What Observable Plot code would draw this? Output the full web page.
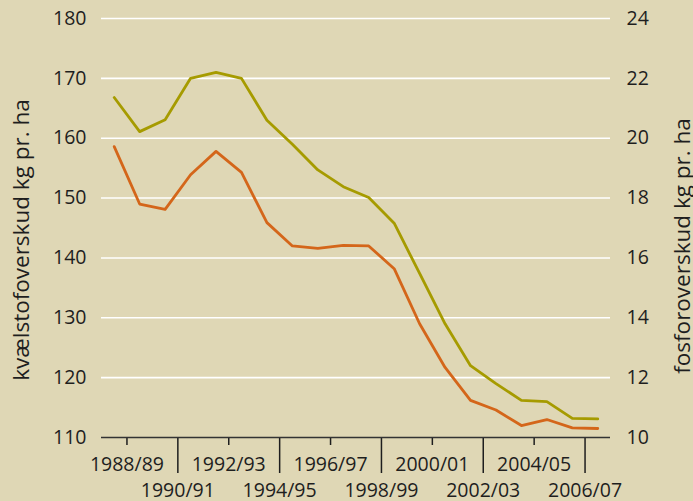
<!DOCTYPE html>
<html>
<head>
<meta charset="utf-8">
<script src="https://cdn.jsdelivr.net/npm/d3@7"></script>
<script src="https://cdn.jsdelivr.net/npm/@observablehq/plot@0.6"></script>
<style>
  html, body { margin: 0; padding: 0; background: #dfd7b5; }
  #chart svg { display: block; }
</style>
</head>
<body>
<div id="chart"></div>
<script>
// Data (20 seasons)
const kvaelstof = [166.8, 161.1, 163.1, 170.0, 171.0, 170.0, 163.0, 159.0, 154.7, 151.9,
                   150.1, 145.8, 137.4, 129.0, 122.0, 119.0, 116.2, 116.0, 113.2, 113.1];
const fosfor = [19.72, 17.80, 17.62, 18.78, 19.56, 18.86, 17.18, 16.40, 16.32, 16.42,
                16.40, 15.64, 13.80, 12.34, 11.24, 10.92, 10.40, 10.60, 10.32, 10.30];
const labelsTop = ["1988/89", "1992/93", "1996/97", "2000/01", "2004/05"];
const labelsBottom = ["1990/91", "1994/95", "1998/99", "2002/03", "2006/07"];
const leftTicks = [110, 120, 130, 140, 150, 160, 170, 180];
const rightTicks = [10, 12, 14, 16, 18, 20, 22, 24];
const leftTitle = "kvælstofoverskud kg pr. ha";
const rightTitle = "fosforoverskud kg pr. ha";

// helpers
const startYear = s => +s.slice(0, 4);
const pos = s => startYear(s) - 1988 + 0.5;
const labelAt = new Map([...labelsTop, ...labelsBottom].map(s => [pos(s), s]));
const pToN = p => 110 + (p - 10) * 5;   // right axis mapped onto left axis
const nToP = n => (n - 110) / 5 + 10;

const nData = kvaelstof.map((v, i) => ({i, v}));
const pData = fosfor.map((v, i) => ({i, v}));

const ink = "#1e1e1e";

const chart = Plot.plot({
  width: 693,
  height: 501,
  marginLeft: 101,
  marginRight: 83,
  marginTop: 18,
  marginBottom: 64,
  style: {background: "#dfd7b5", fontFamily: "'Open Sans', sans-serif", fontSize: "19.5px", color: ink},
  x: {domain: [-0.5, 19.5]},
  y: {domain: [110, 180]},
  marks: [
    Plot.ruleY(leftTicks.filter(d => d > 110), {stroke: "white", strokeWidth: 1.6}),
    Plot.axisY({ticks: leftTicks, tickSize: 0, tickPadding: 15, label: null}),
    Plot.axisY({anchor: "right", ticks: rightTicks.map(pToN), tickSize: 0, tickPadding: 16,
                tickFormat: d => String(Math.round(nToP(d))), label: null}),
    Plot.axisX({ticks: labelsTop.map(pos), tickSize: 8, tickPadding: 12, strokeWidth: 1.5,
                tickFormat: d => labelAt.get(d), label: null}),
    Plot.axisX({ticks: labelsBottom.map(pos), tickSize: 36, tickPadding: 10, strokeWidth: 1.5,
                tickFormat: d => labelAt.get(d), label: null}),
    Plot.ruleY([110], {stroke: "#333", strokeWidth: 1.6}),
    Plot.line(nData, {x: "i", y: "v", stroke: "#a69b00", strokeWidth: 2.8}),
    Plot.line(pData, {x: "i", y: d => pToN(d.v), stroke: "#d4661a", strokeWidth: 2.8}),
    Plot.text([leftTitle], {frameAnchor: "left", dx: -80, dy: 12, rotate: -90, text: d => d,
               textAnchor: "middle", fill: ink, fontSize: 22.5}),
    Plot.text([rightTitle], {frameAnchor: "right", dx: 72, dy: 18, rotate: -90, text: d => d,
               textAnchor: "middle", fill: ink, fontSize: 22.5})
  ]
});
document.getElementById("chart").append(chart);
</script>
</body>
</html>
